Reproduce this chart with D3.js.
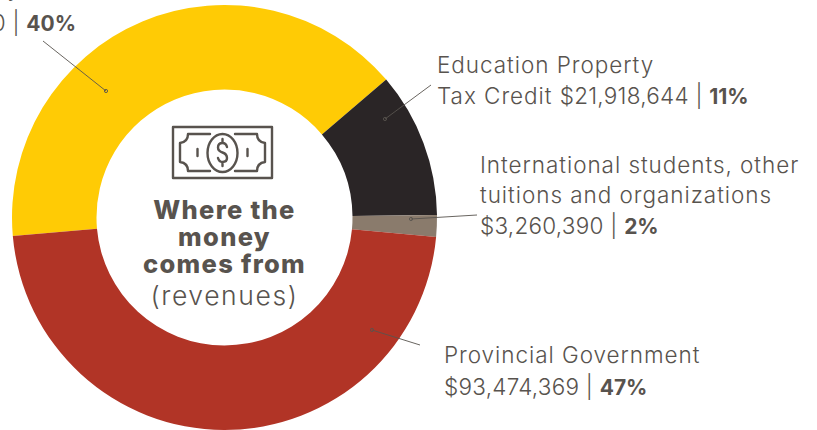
<!DOCTYPE html>
<html>
<head>
<meta charset="utf-8">
<script src="https://cdnjs.cloudflare.com/ajax/libs/d3/7.8.5/d3.min.js"></script>
<style>
html, body { margin: 0; padding: 0; background: #fff; overflow: hidden; }
text { font-family: "Inter", sans-serif; fill: #58534e; }
</style>
</head>
<body>
<div id="chart-area"></div>
<script>
var sources = ["Municipal Property", "Education Property Tax Credit", "International students, other tuitions and organizations", "Provincial Government"];
var revenues = [79600000, 21918644, 3260390, 93474369];
var percents = ["40%", "11%", "2%", "47%"];
var colors = ["#ffcb05", "#2a2526", "#8a7b6c", "#b13426"];

var width = 817, height = 430;
var cx = 224.5, cy = 217.5, outer = 212.5, inner = 128;

// text layout: each row is a label line, amount goes after the text of the row flagged
var labelRows = [
    [{ t: "Municipal Property", x: 21, y: -4, end: true }, { t: "", x: 76, y: 31, end: true, amount: true }],
    [{ t: "Education Property", x: 437, y: 73 }, { t: "Tax Credit ", x: 437, y: 104, amount: true }],
    [{ t: "International students, other", x: 480, y: 173 }, { t: "tuitions and organizations", x: 480, y: 203 }, { t: "", x: 480, y: 234, amount: true }],
    [{ t: "Provincial Government", x: 444, y: 363 }, { t: "", x: 444, y: 395, amount: true }]
];
// leader: dot position then outer end
var leaders = [
    [[106, 91], [43, 41]],
    [[385, 119], [431, 85]],
    [[411, 219], [477, 215]],
    [[372, 330], [420, 345]]
];

var svg = d3.select("#chart-area")
    .append("svg")
    .attr("width", width)
    .attr("height", height);

var pie = d3.pie()
    .sort(null)
    .startAngle(-95 * Math.PI / 180)
    .endAngle(265 * Math.PI / 180);

var arc = d3.arc().innerRadius(inner).outerRadius(outer);

var group = svg.append("g")
    .attr("transform", "translate(" + cx + "," + cy + ")");

group.selectAll("path")
    .data(pie(revenues))
    .enter()
    .append("path")
    .attr("d", arc)
    .attr("fill", (d, i) => colors[i]);

// leaders
leaders.forEach(l => {
    svg.append("line")
        .attr("x1", l[0][0]).attr("y1", l[0][1])
        .attr("x2", l[1][0]).attr("y2", l[1][1])
        .attr("stroke", "#58534e")
        .attr("stroke-width", 0.9);
    svg.append("circle")
        .attr("cx", l[0][0]).attr("cy", l[0][1])
        .attr("r", 1.6)
        .attr("fill", "none")
        .attr("stroke", "#58534e")
        .attr("stroke-width", 0.9);
});

var fmt = d3.format("$,");

labelRows.forEach((rows, i) => {
    rows.forEach(r => {
        var txt = svg.append("text")
            .attr("x", r.x)
            .attr("y", r.y)
            .attr("font-size", 22.5)
            .attr("font-weight", 300)
            .attr("text-anchor", r.end ? "end" : "start");
        txt.append("tspan").style("letter-spacing", "0.95px").text(r.t);
        if (r.amount) {
            txt.append("tspan").style("letter-spacing", "0.25px").text(fmt(revenues[i]) + " | ");
            txt.append("tspan").attr("font-weight", 700).attr("font-size", 21).text(percents[i]);
        }
    });
});

// center title
var title = [["Where the", 219], ["money", 246], ["comes from", 273]];
title.forEach(t => {
    svg.append("text")
        .attr("x", cx).attr("y", t[1])
        .attr("text-anchor", "middle")
        .attr("font-size", 25.5)
        .attr("font-weight", 800)
        .style("letter-spacing", "1.3px")
        .text(t[0]);
});
svg.append("text")
    .attr("x", cx).attr("y", 305)
    .attr("text-anchor", "middle")
    .attr("font-size", 26.5)
    .attr("font-weight", 300)
    .style("letter-spacing", "1.6px")
    .text("(revenues)");

// banknote icon
var icon = svg.append("g")
    .attr("transform", "translate(130,110)")
    .attr("fill", "none")
    .attr("stroke", "#58534e")
    .attr("stroke-width", 2.4)
    .attr("stroke-linecap", "round")
    .attr("stroke-linejoin", "round");
icon.append("rect").attr("x", 43).attr("y", 17).attr("width", 99).attr("height", 51);
icon.append("path").attr("d", "M80,24 H58 Q58,32 50,33 V52 Q58,53 58,61 H80");
icon.append("path").attr("d", "M105,24 H127 Q127,32 135,33 V52 Q127,53 127,61 H105");
icon.append("ellipse").attr("cx", 92.5).attr("cy", 43).attr("rx", 15).attr("ry", 19);
icon.append("path").attr("d", "M67.5,39 V46 M117.5,39 V46");
icon.append("path").attr("d", "M97,37 Q96,33 92.5,33 Q88,33 88,37.5 Q88,41 92.5,42.5 Q97,44 97,48 Q97,52 92.5,52 Q89,52 88,48 M92.5,29 V33 M92.5,52 V56");
</script>
</body>
</html>
